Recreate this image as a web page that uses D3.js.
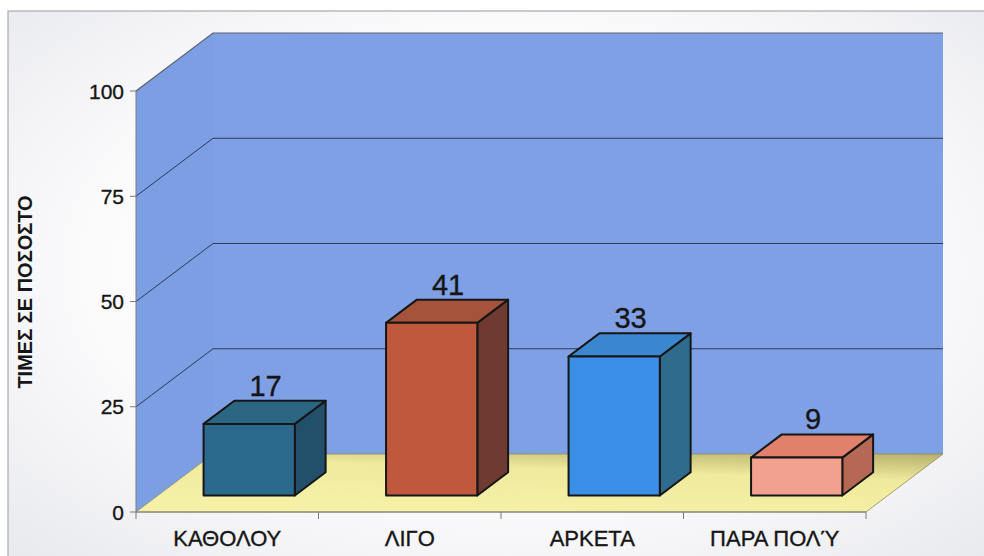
<!DOCTYPE html>
<html>
<head>
<meta charset="utf-8">
<script src="https://cdn.jsdelivr.net/npm/d3@7"></script>
<style>
  html, body { margin: 0; padding: 0; background: #ffffff; }
  svg { display: block; }
  text { font-family: "Liberation Sans", Arial, sans-serif; fill: #161616; stroke: #161616; stroke-width: 0.35px; }
</style>
</head>
<body>
<svg id="chart" width="984" height="556"></svg>
<script>
// ---- data ----
const categories = ["ΚΑΘΟΛΟΥ", "ΛΙΓΟ", "ΑΡΚΕΤΑ", "ΠΑΡΑ ΠΟΛΎ"];
const values = [17, 41, 33, 9];
const yTicks = [0, 25, 50, 75, 100];
const yTitle = "ΤΙΜΕΣ ΣΕ ΠΟΣΟΣΤΟ";
const barFront = ["#2c6a8d", "#c0593b", "#3c8fe6", "#f1a18e"];
const barTop   = ["#2b6683", "#a5533b", "#3a87cf", "#e1816c"];
const barSide  = ["#22506a", "#6f3a2f", "#2e6b8c", "#b56955"];

// ---- layout ----
const svg = d3.select("#chart");
const W = 984, H = 556;
const DX = 77, DY = -58;           // depth projection
const Z0 = 0.285, Z1 = 0.685;      // bar depth slice

const x = d3.scaleBand().domain(categories).range([136, 866]).paddingInner(0).paddingOuter(0);
const y = d3.scaleLinear().domain([0, 100]).range([512, 91]);
const P = (xv, v, z) => [xv + z * DX, y(v) + z * DY];
const xL = x.range()[0], xR = x.range()[1];
const poly = pts => pts.map(p => p.join(",")).join(" ");

const defs = svg.append("defs");
const bg = defs.append("radialGradient").attr("id", "bg")
  .attr("cx", "0.5").attr("cy", "0.45").attr("r", "0.75");
bg.append("stop").attr("offset", "0").attr("stop-color", "#ffffff");
bg.append("stop").attr("offset", "0.55").attr("stop-color", "#fbfbfc");
bg.append("stop").attr("offset", "1").attr("stop-color", "#e6e7ec");

const fl = defs.append("linearGradient").attr("id", "floor")
  .attr("x1", "0.55").attr("y1", "1").attr("x2", "1").attr("y2", "0");
fl.append("stop").attr("offset", "0").attr("stop-color", "#f4f0a6");
fl.append("stop").attr("offset", "0.6").attr("stop-color", "#efea9c");
fl.append("stop").attr("offset", "1").attr("stop-color", "#b8b06c");

// background & frame
svg.append("rect").attr("x", 0).attr("y", 0).attr("width", W).attr("height", H).attr("fill", "#ffffff");
svg.append("rect").attr("x", 8).attr("y", 11).attr("width", 990).attr("height", 570)
  .attr("fill", "url(#bg)").attr("stroke", "#a9a9ad").attr("stroke-width", 1.2);

// side wall
svg.append("polygon").attr("points", poly([P(xL,0,0), P(xL,100,0), P(xL,100,1), P(xL,0,1)]))
  .attr("fill", "#7c9ee2");
// back wall
svg.append("polygon").attr("points", poly([P(xL,0,1), P(xL,100,1), P(xR,100,1), P(xR,0,1)]))
  .attr("fill", "#7fa0e4");

// wall top edges
svg.append("polyline").attr("points", poly([P(xL,100,0), P(xL,100,1), P(xR,100,1)]))
  .attr("fill", "none").attr("stroke", "#5a6275").attr("stroke-width", 1.2);

// gridlines
yTicks.filter(t => t > 0 && t < 100).forEach(t => {
  svg.append("polyline").attr("points", poly([P(xL,t,0), P(xL,t,1), P(xR,t,1)]))
    .attr("fill", "none").attr("stroke", "#2f3a55").attr("stroke-width", 1);
});

// floor
svg.append("polygon").attr("points", poly([P(xL,0,0), P(xR,0,0), P(xR,0,1), P(xL,0,1)]))
  .attr("fill", "url(#floor)").attr("stroke", "#8d8a62").attr("stroke-width", 0.8);

// bars
const bw = x.bandwidth() * 0.5;
const g = svg.append("g").attr("stroke", "#161616").attr("stroke-width", 2).attr("stroke-linejoin", "round");
categories.forEach((c, i) => {
  const v = values[i];
  const x0 = x(c) + x.bandwidth() * 0.25, x1 = x0 + bw;
  g.append("polygon").attr("points", poly([P(x1,0,Z0), P(x1,0,Z1), P(x1,v,Z1), P(x1,v,Z0)]))
    .attr("fill", barSide[i]);
  g.append("polygon").attr("points", poly([P(x0,v,Z0), P(x1,v,Z0), P(x1,v,Z1), P(x0,v,Z1)]))
    .attr("fill", barTop[i]);
  g.append("polygon").attr("points", poly([P(x0,0,Z0), P(x1,0,Z0), P(x1,v,Z0), P(x0,v,Z0)]))
    .attr("fill", barFront[i]);
  const lp = P((x0 + x1) / 2, v, (Z0 + Z1) / 2);
  svg.append("text").attr("x", lp[0] + 1).attr("y", P(x0, v, Z1)[1] - 5)
    .attr("text-anchor", "middle").attr("font-size", 29).text(v);
});

// y axis
const yAxis = svg.append("g");
yAxis.append("line").attr("x1", xL).attr("x2", xL).attr("y1", y(0)).attr("y2", y(100))
  .attr("stroke", "#7a7a7a").attr("stroke-width", 1);
yTicks.forEach(t => {
  yAxis.append("line").attr("x1", xL - 6).attr("x2", xL).attr("y1", y(t)).attr("y2", y(t))
    .attr("stroke", "#7a7a7a").attr("stroke-width", 1);
  yAxis.append("text").attr("x", xL - 12).attr("y", y(t)).attr("dy", "0.36em")
    .attr("text-anchor", "end").attr("font-size", 21).text(t);
});

// x axis
const xAxis = svg.append("g");
xAxis.append("line").attr("x1", xL).attr("x2", xR).attr("y1", y(0)).attr("y2", y(0))
  .attr("stroke", "#7a7a7a").attr("stroke-width", 1);
categories.concat([null]).forEach((c, i) => {
  const xv = c === null ? xR : x(c);
  xAxis.append("line").attr("x1", xv).attr("x2", xv).attr("y1", y(0)).attr("y2", y(0) + 7)
    .attr("stroke", "#7a7a7a").attr("stroke-width", 1);
});
categories.forEach(c => {
  xAxis.append("text").attr("x", x(c) + x.bandwidth() / 2).attr("y", 546)
    .attr("text-anchor", "middle").attr("font-size", 22).text(c);
});

// y title
svg.append("text").attr("transform", "translate(32,292) rotate(-90)")
  .attr("text-anchor", "middle").attr("font-size", 20).attr("font-weight", "bold")
  .style("stroke-width", "0px").text(yTitle);
</script>
</body>
</html>
